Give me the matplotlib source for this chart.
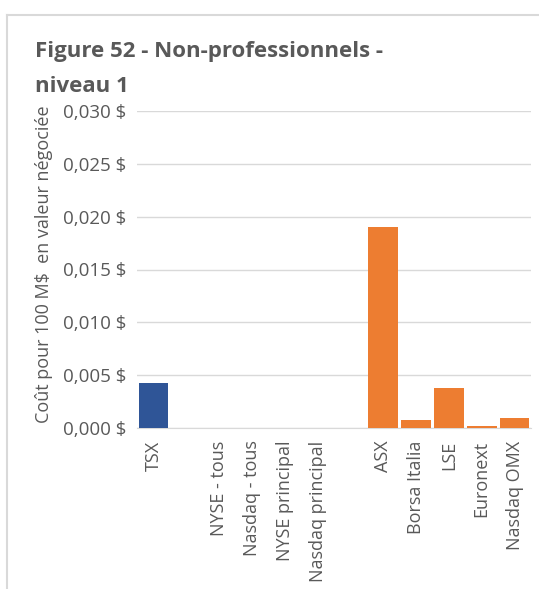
import matplotlib.pyplot as plt
from matplotlib.lines import Line2D
from matplotlib.ticker import FuncFormatter

categories = ['TSX', '', 'NYSE - tous', 'Nasdaq - tous', 'NYSE principal',
              'Nasdaq principal', '', 'ASX', 'Borsa Italia', 'LSE',
              'Euronext', 'Nasdaq OMX']
values = [0.00425, 0, 0, 0, 0, 0, 0, 0.0190, 0.00075, 0.0038, 0.0002, 0.00095]
colors = ['#2f5597'] + ['#ed7d31'] * 11

plt.rcParams['font.family'] = ['Open Sans', 'DejaVu Sans']
grey = '#595959'

fig = plt.figure(figsize=(5.39, 5.89), dpi=100)
W, H = 539, 589
ax = fig.add_axes([137 / W, 1 - 428 / H, (531 - 137) / W, (428 - 111) / H])

x = range(len(categories))
ax.bar(x, values, width=0.9, color=colors, zorder=3)
ax.set_xlim(-0.5, len(categories) - 0.5)
ax.set_ylim(0, 0.030)
ax.set_yticks([0, 0.005, 0.010, 0.015, 0.020, 0.025, 0.030])
ax.yaxis.set_major_formatter(FuncFormatter(lambda v, p: f'{v:.3f} $'.replace('.', ',')))
ax.set_xticks(list(x))
ax.set_xticklabels(categories, rotation=90, fontsize=13, color=grey)
ax.tick_params(axis='y', length=0, labelsize=13.5, labelcolor=grey, pad=8)
ax.tick_params(axis='x', length=0, pad=9)
ax.grid(axis='y', color='#d9d9d9', linewidth=1, zorder=0)
for s in ['top', 'right', 'left']:
    ax.spines[s].set_visible(False)
ax.spines['bottom'].set_color('#d9d9d9')

fig.text(35 / W, 1 - 52 / H, 'Figure 52 - Non-professionnels -', fontsize=16,
         fontweight='bold', color=grey, va='center')
fig.text(35 / W, 1 - 86 / H, 'niveau 1', fontsize=16,
         fontweight='bold', color=grey, va='center')
fig.text(44 / W, 1 - 264 / H, 'Coût pour 100 M$  en valeur négociée', rotation=90,
         fontsize=13, color=grey, ha='center', va='center')

# chart border
fig.add_artist(Line2D([7 / W, 7 / W], [0, 1 - 15 / H], color='#d9d9d9', linewidth=1.5,
                      transform=fig.transFigure))
fig.add_artist(Line2D([7 / W, 1], [1 - 15 / H, 1 - 15 / H], color='#d9d9d9', linewidth=1.5,
                      transform=fig.transFigure))

fig.savefig('out.png', dpi=100)
